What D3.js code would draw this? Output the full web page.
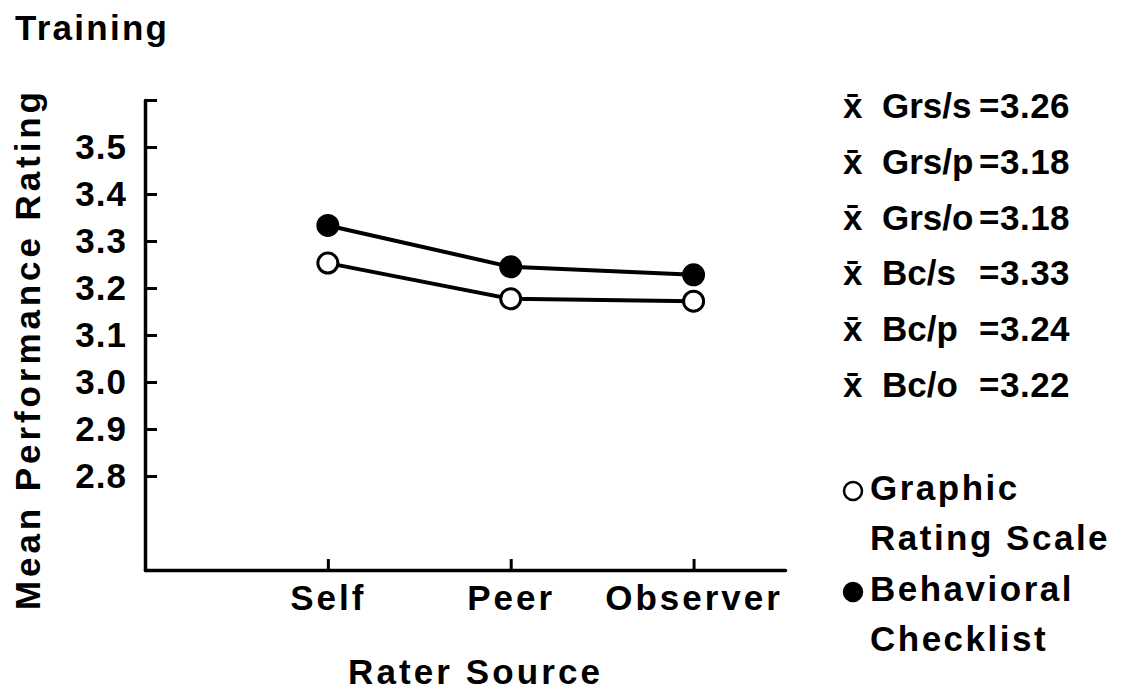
<!DOCTYPE html>
<html>
<head>
<meta charset="utf-8">
<script src="https://cdn.jsdelivr.net/npm/d3@7"></script>
<style>
  html, body { margin: 0; padding: 0; background: #fff; }
  svg text { font-family: "Liberation Sans", Arial, sans-serif; font-weight: bold; fill: #000; }
</style>
</head>
<body>
<svg id="chart" width="1130" height="691"></svg>
<script>
"use strict";

// rater sources along the x axis
const sources = [ "Self", "Peer", "Observer" ];

// means
const grsValues = [ 3.253, 3.177, 3.172 ];
const bcValues  = [ 3.333, 3.245, 3.228 ];

// y axis ticks (top tick has no label)
const yTicks = [ 2.8, 2.9, 3.0, 3.1, 3.2, 3.3, 3.4, 3.5, 3.6 ];

// reported means on the right
const meanLabels = [ "Grs/s", "Grs/p", "Grs/o", "Bc/s", "Bc/p", "Bc/o" ];
const meanValues = [ "3.26", "3.18", "3.18", "3.33", "3.24", "3.22" ];

const seriesNames = [ [ "Graphic", "Rating Scale" ], [ "Behavioral", "Checklist" ] ];

const fontSize = 35;

const svg = d3.select( "#chart" );

// scales
const x = d3.scaleLinear()
            .domain( [ 0, 3.5 ] )
            .range( [ 145, 785 ] );
const y = d3.scaleLinear()
            .domain( [ 2.6, 3.6 ] )
            .range( [ 570, 100 ] );

// axes
const yAxis = d3.axisLeft( y )
                .tickValues( yTicks )
                .tickSizeInner( -12 )
                .tickSizeOuter( 0 )
                .tickPadding( 18 )
                .tickFormat( (d) => d === 3.6 ? "" : d3.format( ".1f" )(d) );

const xAxis = d3.axisBottom( x )
                .tickValues( [ 1, 2, 3 ] )
                .tickSizeInner( -11 )
                .tickSizeOuter( 0 )
                .tickPadding( 15 )
                .tickFormat( (d) => sources[ d - 1 ] );

const gy = svg.append( "g" )
              .attr( "transform", `translate( ${x(0)}, 0 )` )
              .call( yAxis );
const gx = svg.append( "g" )
              .attr( "transform", `translate( 0, ${y(2.6)} )` )
              .call( xAxis );

[ gx, gy ].forEach( (g) => {
  g.select( ".domain" ).attr( "stroke-width", 3.5 ).attr( "stroke-linecap", "round" );
  g.selectAll( ".tick line" ).attr( "stroke-width", 3 );
  g.selectAll( "text" )
   .attr( "font-size", fontSize )
   .attr( "font-family", "Liberation Sans, Arial, sans-serif" )
   .attr( "font-weight", "bold" )
   .attr( "letter-spacing", 1 );
});
gx.selectAll( ".tick text" ).attr( "letter-spacing", 3 );

// series lines + markers
const line = d3.line()
               .x( (d, i) => x( i + 1 ) )
               .y( (d) => y( d ) );

const series = [
  { values: grsValues, fill: "#fff" },
  { values: bcValues,  fill: "#000" },
];

series.forEach( (s) => {
  svg.append( "path" )
     .datum( s.values )
     .attr( "d", line )
     .attr( "fill", "none" )
     .attr( "stroke", "#000" )
     .attr( "stroke-width", 4 );

  svg.selectAll( null )
     .data( s.values )
     .enter().append( "circle" )
     .attr( "cx", (d, i) => x( i + 1 ) )
     .attr( "cy", (d) => y( d ) )
     .attr( "r", 10 )
     .attr( "fill", s.fill )
     .attr( "stroke", "#000" )
     .attr( "stroke-width", 3 );
});

// titles
svg.append( "text" )
   .attr( "x", 15 ).attr( "y", 40 )
   .attr( "font-size", fontSize )
   .attr( "textLength", 152 )
   .text( "Training" );

svg.append( "text" )
   .attr( "transform", "translate( 40, 351 ) rotate( -90 )" )
   .attr( "text-anchor", "middle" )
   .attr( "font-size", fontSize )
   .attr( "textLength", 518 )
   .text( "Mean Performance Rating" );

svg.append( "text" )
   .attr( "x", 474 ).attr( "y", 684 )
   .attr( "text-anchor", "middle" )
   .attr( "font-size", fontSize )
   .attr( "textLength", 252 )
   .text( "Rater Source" );

// means list
const rows = svg.append( "g" )
                .selectAll( "g" )
                .data( meanLabels )
                .enter().append( "g" )
                .attr( "transform", (d, i) => `translate( 0, ${118 + i * 55.8} )` );

rows.append( "text" )
    .attr( "x", 843 )
    .attr( "font-size", fontSize )
    .text( "x\u0304" );
rows.append( "text" )
    .attr( "x", 882 )
    .attr( "font-size", fontSize )
    .text( (d) => d );
rows.append( "text" )
    .attr( "x", 979 )
    .attr( "font-size", fontSize )
    .attr( "letter-spacing", 0.5 )
    .text( (d, i) => "=" + meanValues[ i ] );

// legend
const legend = svg.append( "g" )
                  .selectAll( "g" )
                  .data( series )
                  .enter().append( "g" )
                  .attr( "transform", (d, i) => `translate( 0, ${i * 101} )` );

legend.append( "circle" )
      .attr( "cx", 853 )
      .attr( "cy", 491 )
      .attr( "r", 9 )
      .attr( "fill", (d) => d.fill )
      .attr( "stroke", "#000" )
      .attr( "stroke-width", 2.5 );

legend.each( function( d, i ) {
  const g = d3.select( this );
  seriesNames[ i ].forEach( (t, j) => {
    g.append( "text" )
     .attr( "x", 870 )
     .attr( "y", 500 + j * 50 )
     .attr( "font-size", fontSize )
     .attr( "letter-spacing", 2.5 )
     .text( t );
  });
});
</script>
</body>
</html>
